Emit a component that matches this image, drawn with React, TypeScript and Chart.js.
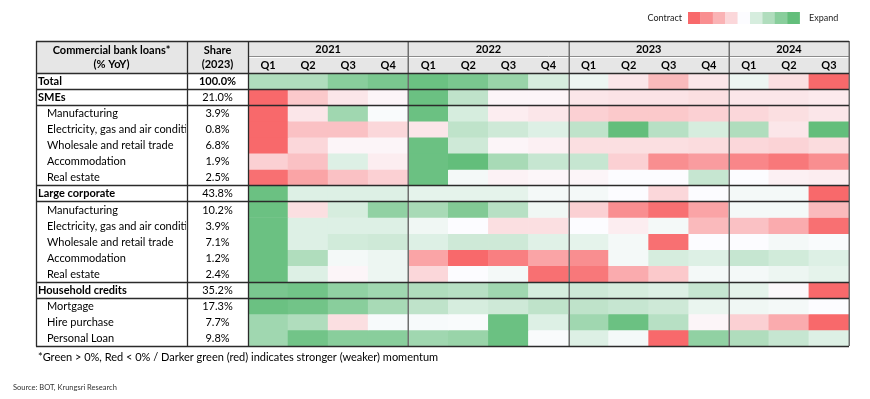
import React, { useEffect, useRef } from "react";
import { Chart, registerables } from "chart.js";

Chart.register(...registerables);

// ---------- Data ----------
const years = ["2021", "2022", "2023", "2024"];
const quartersPerYear = [4, 4, 4, 3];
const quarters = ["Q1", "Q2", "Q3", "Q4", "Q1", "Q2", "Q3", "Q4", "Q1", "Q2", "Q3", "Q4", "Q1", "Q2", "Q3"];

const rowLabels = [
  "Total",
  "SMEs",
  "Manufacturing",
  "Electricity, gas and air conditioning",
  "Wholesale and retail trade",
  "Accommodation",
  "Real estate",
  "Large corporate",
  "Manufacturing",
  "Electricity, gas and air conditioning",
  "Wholesale and retail trade",
  "Accommodation",
  "Real estate",
  "Household credits",
  "Mortgage",
  "Hire purchase",
  "Personal Loan",
];
const shares2023 = [
  "100.0%", "21.0%", "3.9%", "0.8%", "6.8%", "1.9%", "2.5%",
  "43.8%", "10.2%", "3.9%", "7.1%", "1.2%", "2.4%",
  "35.2%", "17.3%", "7.7%", "9.8%",
];
const sectionRows = [0, 1, 7, 13];

// momentum score per quarter: -1 = strongest contraction (red), +1 = strongest expansion (green)
const total = [0.5, 0.5, 0.75, 0.85, 0.95, 0.85, 0.65, 0.25, 0.1, -0.15, -0.45, -0.15, 0.1, -0.2, -1];
const smes = [-1, -0.35, -0.15, -0.05, 0.95, 0.4, -0.05, -0.05, -0.15, -0.17, -0.17, -0.2, -0.15, -0.15, -0.12];
const smeManufacturing = [-1, -0.15, 0.6, 0.02, 0.95, 0.25, -0.1, -0.15, -0.3, -0.35, -0.35, -0.3, -0.25, -0.2, -0.15];
const smeElectricity = [-1, -0.4, -0.4, -0.25, -0.15, 0.4, 0.3, 0.2, 0.4, 1, 0.45, 0.25, 0.5, -0.15, 1];
const smeWholesale = [-1, -0.25, -0.05, -0.05, 0.95, 0.3, -0.05, -0.08, -0.2, -0.2, -0.2, -0.22, -0.25, -0.28, -0.22];
const smeAccommodation = [-0.3, -0.4, 0.2, -0.1, 0.95, 1, 0.55, 0.35, 0.35, -0.3, -0.75, -0.65, -0.8, -0.9, -0.75];
const smeRealEstate = [-0.95, -0.6, -0.4, -0.3, 0.95, 0.05, -0.07, -0.04, -0.05, 0, 0, 0.35, 0, -0.08, -0.1];
const largeCorporate = [0.95, 0.2, 0.2, 0.2, 0.15, 0.15, 0.15, 0.05, 0.05, 0, -0.25, 0, 0.05, 0.05, -1];
const lcManufacturing = [0.95, -0.2, 0.25, 0.7, 0.55, 0.8, 0.45, 0.08, -0.3, -0.75, -0.95, -0.6, 0.05, 0.05, -0.45];
const lcElectricity = [0.95, 0.2, 0.2, 0.2, 0.08, 0, -0.2, -0.2, 0, -0.1, 0.05, -0.45, -0.4, -0.55, -0.95];
const lcWholesale = [0.95, 0.2, 0.28, 0.3, 0.2, 0.3, 0.3, 0.18, 0.15, 0.05, -0.95, 0, 0, 0.05, 0.02];
const lcAccommodation = [0.95, 0.5, 0.05, 0.1, -0.6, -1, -0.85, -0.6, -0.75, 0.05, 0.25, 0.2, 0.35, 0.28, 0.2];
const lcRealEstate = [0.95, 0.2, -0.05, 0.1, -0.25, 0, 0.05, -0.95, -0.9, -0.55, -0.35, 0.05, 0.05, 0.1, 0.15];
const householdCredits = [0.85, 0.9, 0.7, 0.6, 0.5, 0.45, 0.6, 0.25, 0.3, 0.25, 0.2, 0.35, 0.15, -0.03, -1];
const mortgage = [0.95, 0.9, 0.75, 0.55, 0.4, 0.25, 0.3, 0.4, 0.4, 0.35, 0.3, 0.12, 0.08, 0.05, 0];
const hirePurchase = [0.6, 0.5, -0.2, 0.03, 0.03, 0.02, 0.95, 0.2, 0.6, 0.95, 0.45, -0.05, -0.3, -0.55, -1];
const personalLoan = [0.6, 0.9, 0.75, 0.75, 0.6, 0.65, 0.95, 0.02, 0.2, 0.05, -1, 0.7, 0.5, 0.35, 0.2];

const rowValues = [
  total, smes, smeManufacturing, smeElectricity, smeWholesale, smeAccommodation, smeRealEstate,
  largeCorporate, lcManufacturing, lcElectricity, lcWholesale, lcAccommodation, lcRealEstate,
  householdCredits, mortgage, hirePurchase, personalLoan,
];

const legendSteps = [-1, -0.75, -0.5, -0.25, 0, 0.25, 0.5, 0.75, 1];

// ---------- Styling ----------
const FONT = "Lato, 'Liberation Sans', sans-serif";
const RED = [248, 105, 107];
const WHITE = [252, 252, 255];
const GREEN = [99, 190, 123];

function heatColor(v: number): string {
  const t = Math.min(1, Math.abs(v));
  const target = v < 0 ? RED : GREEN;
  const c = WHITE.map((w, i) => Math.round(w + (target[i] - w) * t));
  return `rgb(${c[0]},${c[1]},${c[2]})`;
}

const TABLE_LEFT = 36;
const SHARE_LEFT = 187;
const HEADER_TOP = 41;
const YEAR_ROW_BOTTOM = 57;

const tablePlugin = {
  id: "tablePlugin",
  beforeDraw(chart: any) {
    const { ctx, chartArea, width, height } = chart;
    ctx.save();
    ctx.fillStyle = "#ffffff";
    ctx.fillRect(0, 0, width, height);
    ctx.fillStyle = "#e6e6e6";
    ctx.fillRect(TABLE_LEFT, HEADER_TOP, chartArea.right - TABLE_LEFT, chartArea.top - HEADER_TOP);
    ctx.restore();
  },
  afterDatasetsDraw(chart: any) {
    const { ctx, chartArea, scales } = chart;
    const ys = scales.y;
    const left = chartArea.left;
    const right = chartArea.right;
    const top = chartArea.top;
    const bottom = chartArea.bottom;
    const colW = (right - left) / quarters.length;
    const rowY = (r: number) => ys.getPixelForValue(r);

    ctx.save();
    ctx.textBaseline = "middle";
    ctx.fillStyle = "#000";

    // header texts
    ctx.font = `bold 11px ${FONT}`;
    ctx.textAlign = "center";
    const labelCx = (TABLE_LEFT + SHARE_LEFT) / 2;
    const shareCx = (SHARE_LEFT + left) / 2;
    ctx.fillText("Commercial bank loans*", labelCx, 50);
    ctx.fillText("(% YoY)", labelCx, 64);
    ctx.fillText("Share", shareCx, 50);
    ctx.fillText("(2023)", shareCx, 64);

    let col = 0;
    const yearEdges: number[] = [left];
    years.forEach((yr, i) => {
      const x0 = left + col * colW;
      const x1 = left + (col + quartersPerYear[i]) * colW;
      ctx.fillText(yr, (x0 + x1) / 2, (HEADER_TOP + YEAR_ROW_BOTTOM) / 2 + 0.5);
      col += quartersPerYear[i];
      yearEdges.push(x1);
    });
    quarters.forEach((q, i) => {
      ctx.fillText(q, left + (i + 0.5) * colW, (YEAR_ROW_BOTTOM + top) / 2 + 0.5);
    });

    // row labels and shares (clipped to the label column)
    rowLabels.forEach((lab, r) => {
      const cy = (rowY(r) + rowY(r + 1)) / 2 + 0.5;
      const isSection = sectionRows.includes(r);
      ctx.save();
      ctx.beginPath();
      ctx.rect(TABLE_LEFT, rowY(r), SHARE_LEFT - TABLE_LEFT - 1, rowY(r + 1) - rowY(r));
      ctx.clip();
      ctx.textAlign = "left";
      ctx.font = `${isSection ? "bold " : ""}11px ${FONT}`;
      ctx.fillText(lab, isSection ? 38 : 47, cy);
      ctx.restore();
      ctx.textAlign = "center";
      ctx.font = `${r === 0 ? "bold " : ""}11px ${FONT}`;
      ctx.fillText(shares2023[r], shareCx, cy);
    });

    // gray separators in the heat-map header
    ctx.strokeStyle = "#8c8c8c";
    ctx.lineWidth = 1;
    ctx.beginPath();
    ctx.moveTo(left, YEAR_ROW_BOTTOM - 0.5);
    ctx.lineTo(right, YEAR_ROW_BOTTOM - 0.5);
    ctx.stroke();
    ctx.strokeStyle = "#ffffff";
    ctx.beginPath();
    ctx.moveTo(left, YEAR_ROW_BOTTOM + 0.5);
    ctx.lineTo(right, YEAR_ROW_BOTTOM + 0.5);
    ctx.stroke();

    // year group separators
    ctx.strokeStyle = "#6f6f6f";
    ctx.lineWidth = 1.5;
    yearEdges.slice(1).forEach((x) => {
      ctx.beginPath();
      ctx.moveTo(Math.round(x) + 0.25, HEADER_TOP);
      ctx.lineTo(Math.round(x) + 0.25, bottom);
      ctx.stroke();
    });

    // horizontal dark lines
    ctx.strokeStyle = "#2b2b2b";
    ctx.lineWidth = 1.3;
    const hLines = [HEADER_TOP, top, rowY(1), rowY(2), rowY(7), rowY(8), rowY(13), rowY(14), bottom];
    hLines.forEach((y) => {
      ctx.beginPath();
      ctx.moveTo(TABLE_LEFT, Math.round(y) + 0.5);
      ctx.lineTo(right, Math.round(y) + 0.5);
      ctx.stroke();
    });
    // vertical dark lines
    [TABLE_LEFT, SHARE_LEFT, left].forEach((x) => {
      ctx.beginPath();
      ctx.moveTo(Math.round(x) + 0.5, HEADER_TOP);
      ctx.lineTo(Math.round(x) + 0.5, bottom + 0.5);
      ctx.stroke();
    });

    // legend
    const sw = 12.4;
    const lx = 688;
    legendSteps.forEach((v, i) => {
      ctx.fillStyle = heatColor(v);
      ctx.fillRect(lx + i * sw, 12, sw + 0.3, 12);
    });
    ctx.fillStyle = "#222";
    ctx.font = `9px ${FONT}`;
    ctx.textAlign = "right";
    ctx.fillText("Contract", 682, 18);
    ctx.textAlign = "left";
    ctx.fillText("Expand", 809, 18);

    // footnote and source
    ctx.fillStyle = "#000";
    ctx.font = `11px ${FONT}`;
    ctx.fillText("*Green > 0%, Red < 0% / Darker green (red) indicates stronger (weaker) momentum", 38, 357);
    ctx.fillStyle = "#333";
    ctx.font = `7.5px ${FONT}`;
    ctx.fillText("Source: BOT, Krungsri Research", 13, 388);

    ctx.restore();
  },
};

export default function App() {
  const canvasRef = useRef<HTMLCanvasElement | null>(null);

  useEffect(() => {
    document.body.style.margin = "0";
    const canvas = canvasRef.current;
    if (!canvas) return;
    const chart = new Chart(canvas, {
      type: "bar",
      data: {
        labels: quarters.map((q, i) => `${years[Math.min(3, Math.floor(i / 4))]} ${q}`),
        datasets: rowValues.map((vals, r) => ({
          label: rowLabels[r],
          data: vals.map(() => [r, r + 1]),
          backgroundColor: vals.map(heatColor),
          borderWidth: 0,
          grouped: false,
          barPercentage: 1,
          categoryPercentage: 1,
        })) as any,
      },
      options: {
        responsive: false,
        animation: false,
        devicePixelRatio: 1,
        layout: { padding: { left: 248, right: 21, top: 73, bottom: 53 } },
        plugins: { legend: { display: false }, tooltip: { enabled: false } },
        scales: {
          x: { display: false, offset: true, grid: { display: false } },
          y: { display: false, min: 0, max: rowLabels.length, reverse: true },
        },
      },
      plugins: [tablePlugin],
    });
    return () => chart.destroy();
  }, []);

  return (
    <div style={{ position: "absolute", left: 0, top: 0, width: 870, height: 399 }}>
      <canvas ref={canvasRef} width={870} height={399} />
    </div>
  );
}
